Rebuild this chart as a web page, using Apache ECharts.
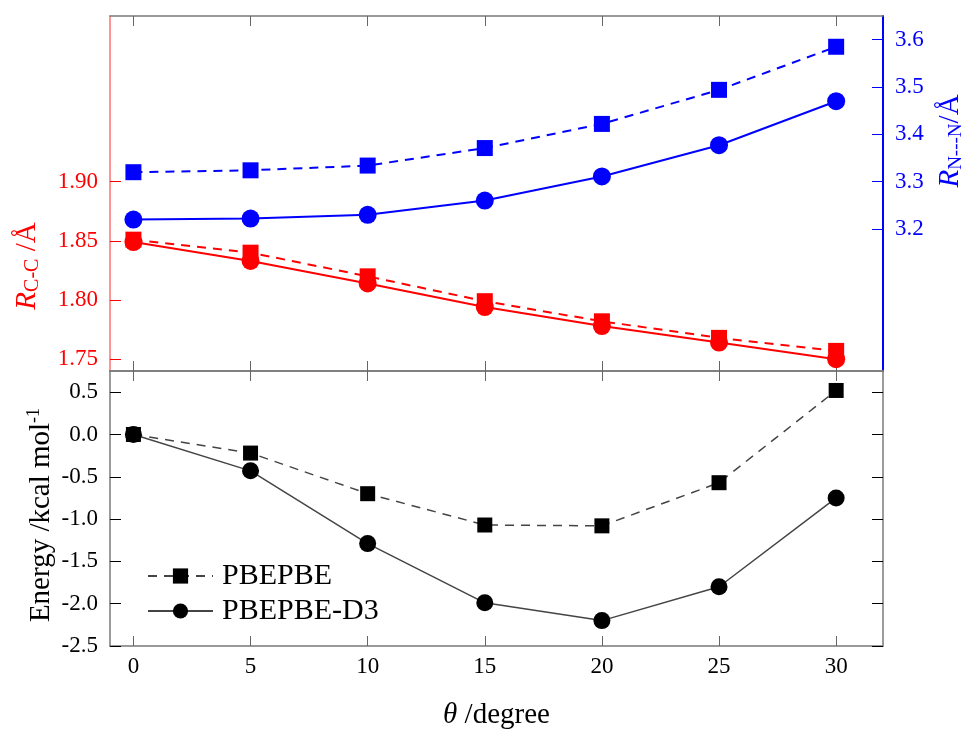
<!DOCTYPE html>
<html>
<head>
<meta charset="utf-8">
<script src="https://cdn.jsdelivr.net/npm/echarts@6/dist/echarts.min.js"></script>
<style>
html, body { margin: 0; background: #fff; }
#chart { width: 968px; height: 731px; }
</style>
</head>
<body>
<div id="chart"></div>
<script>
// theta (degree)
const theta = [0, 5, 10, 15, 20, 25, 30];
// R C-C (Å), left axis of top panel
const rccPBE = [1.851, 1.840, 1.820, 1.799, 1.782, 1.768, 1.757];
const rccD3 = [1.849, 1.833, 1.814, 1.794, 1.778, 1.764, 1.750];
// R N---N (Å), right axis of top panel
const rnnPBE = [3.320, 3.324, 3.334, 3.371, 3.422, 3.494, 3.585];
const rnnD3 = [3.220, 3.222, 3.230, 3.260, 3.311, 3.377, 3.470];
// energy (kcal/mol), bottom panel
const energyPBE = [0.0, -0.22, -0.70, -1.07, -1.08, -0.57, 0.52];
const energyD3 = [0.0, -0.43, -1.29, -1.99, -2.20, -1.80, -0.75];

const xTicks = [0, 5, 10, 15, 20, 25, 30];
const rccTicks = [1.75, 1.80, 1.85, 1.90];
const rnnTicks = [3.2, 3.3, 3.4, 3.5, 3.6];
const energyTicks = [-2.5, -2.0, -1.5, -1.0, -0.5, 0.0, 0.5];

const serif = "Liberation Serif";
const frameColor = "#7a7a7a";

const pairs = (ys) => theta.map((t, i) => [t, ys[i]]);

function xAxisOf(grid, position, showLabels) {
    return {
        type: "value",
        gridIndex: grid,
        position: position,
        min: -1,
        max: 32,
        splitLine: { show: false },
        axisLine: { show: true, onZero: false, lineStyle: { color: frameColor, width: 1.5 } },
        axisTick: { show: true, inside: true, length: 10, customValues: xTicks, lineStyle: { color: "#666", width: 1 } },
        axisLabel: {
            show: showLabels,
            customValues: xTicks,
            margin: 9,
            color: "#000",
            fontFamily: serif,
            fontSize: 23,
        },
    };
}

function yAxisOf(grid, position, min, max, ticks, color, lineColor, showLabels, digits) {
    return {
        type: "value",
        gridIndex: grid,
        position: position,
        min: min,
        max: max,
        splitLine: { show: false },
        axisLine: { show: true, onZero: false, lineStyle: { color: lineColor, width: position === "right" && grid === 0 ? 2 : 1.5 } },
        axisTick: { show: true, inside: true, length: 11, customValues: ticks, lineStyle: { color: color, width: 1 } },
        axisLabel: {
            show: showLabels,
            customValues: ticks,
            margin: 12,
            color: color,
            fontFamily: serif,
            fontSize: 23,
            formatter: (v) => v.toFixed(digits),
        },
    };
}

function lineSeries(name, xi, yi, ys, symbol, size, color, lineColor, dashed, width) {
    return {
        name: name,
        type: "line",
        xAxisIndex: xi,
        yAxisIndex: yi,
        data: pairs(ys),
        symbol: symbol,
        symbolSize: size,
        showSymbol: true,
        itemStyle: { color: color },
        lineStyle: { color: lineColor, width: width, type: dashed ? [9, 7] : "solid" },
        emphasis: { disabled: true },
        animation: false,
    };
}

const chart = echarts.init(document.getElementById("chart"));

const option = {
    backgroundColor: "#fff",
    animation: false,
    grid: [
        { left: 110, right: 85, top: 16, height: 355 },
        { left: 110, right: 85, top: 371, height: 277 },
    ],
    xAxis: [
        xAxisOf(0, "bottom", false),
        Object.assign(xAxisOf(1, "bottom", true), {
            name: "{i|θ} /degree",
            nameLocation: "middle",
            nameGap: 55,
            nameTextStyle: {
                fontFamily: serif,
                fontSize: 29,
                color: "#000",
                rich: { i: { fontFamily: serif, fontSize: 29, fontStyle: "italic", color: "#000" } },
            },
        }),
        xAxisOf(0, "top", false),
        xAxisOf(1, "top", false),
    ],
    yAxis: [
        yAxisOf(0, "left", 1.74, 2.04, rccTicks, "#ff0000", "#ff7070", true, 2),
        yAxisOf(0, "right", 2.9, 3.65, rnnTicks, "#0000ff", "#0000ff", true, 1),
        yAxisOf(1, "left", -2.5, 0.75, energyTicks, "#000", frameColor, true, 1),
        yAxisOf(1, "right", -2.5, 0.75, energyTicks, "#000", frameColor, false, 1),
    ],
    legend: {
        data: ["PBEPBE", "PBEPBE-D3"],
        orient: "vertical",
        left: 142,
        top: 556,
        itemWidth: 65,
        itemHeight: 19,
        itemGap: 5,
        textStyle: { fontFamily: serif, fontSize: 30, color: "#000", padding: [0, 0, 0, 4] },
    },
    graphic: [
        {
            type: "text",
            x: 27,
            y: 266,
            rotation: Math.PI / 2,
            style: {
                text: "{i|R}{sub|C-C} /Å",
                fill: "#ff0000",
                fontFamily: serif,
                fontSize: 29,
                align: "center",
                verticalAlign: "middle",
                rich: {
                    i: { fontFamily: serif, fontSize: 29, fontStyle: "italic", fill: "#ff0000" },
                    sub: { fontFamily: serif, fontSize: 20, fill: "#ff0000", padding: [12, 0, 0, 0] },
                },
            },
        },
        {
            type: "text",
            x: 950,
            y: 141,
            rotation: Math.PI / 2,
            style: {
                text: "{i|R}{sub|N---N}/Å",
                fill: "#0000ff",
                fontFamily: serif,
                fontSize: 29,
                align: "center",
                verticalAlign: "middle",
                rich: {
                    i: { fontFamily: serif, fontSize: 29, fontStyle: "italic", fill: "#0000ff" },
                    sub: { fontFamily: serif, fontSize: 19, fill: "#0000ff", padding: [12, 0, 0, 0] },
                },
            },
        },
        {
            type: "text",
            x: 41,
            y: 515,
            rotation: Math.PI / 2,
            style: {
                text: "Energy /kcal mol{sup|-1}",
                fill: "#000",
                fontFamily: serif,
                fontSize: 29,
                align: "center",
                verticalAlign: "middle",
                rich: {
                    sup: { fontFamily: serif, fontSize: 18, fill: "#000", padding: [0, 0, 14, 0] },
                },
            },
        },
    ],
    series: [
        lineSeries("RccPBE", 0, 0, rccPBE, "rect", 16, "#ff0000", "#ff0000", true, 2),
        lineSeries("RccD3", 0, 0, rccD3, "circle", 18, "#ff0000", "#ff0000", false, 2),
        lineSeries("RnnPBE", 0, 1, rnnPBE, "rect", 16, "#0000ff", "#0000ff", true, 2),
        lineSeries("RnnD3", 0, 1, rnnD3, "circle", 18, "#0000ff", "#0000ff", false, 2),
        lineSeries("PBEPBE", 1, 2, energyPBE, "rect", 15, "#000", "#444", true, 1.5),
        lineSeries("PBEPBE-D3", 1, 2, energyD3, "circle", 17, "#000", "#444", false, 1.5),
    ],
};

chart.setOption(option);
</script>
</body>
</html>
